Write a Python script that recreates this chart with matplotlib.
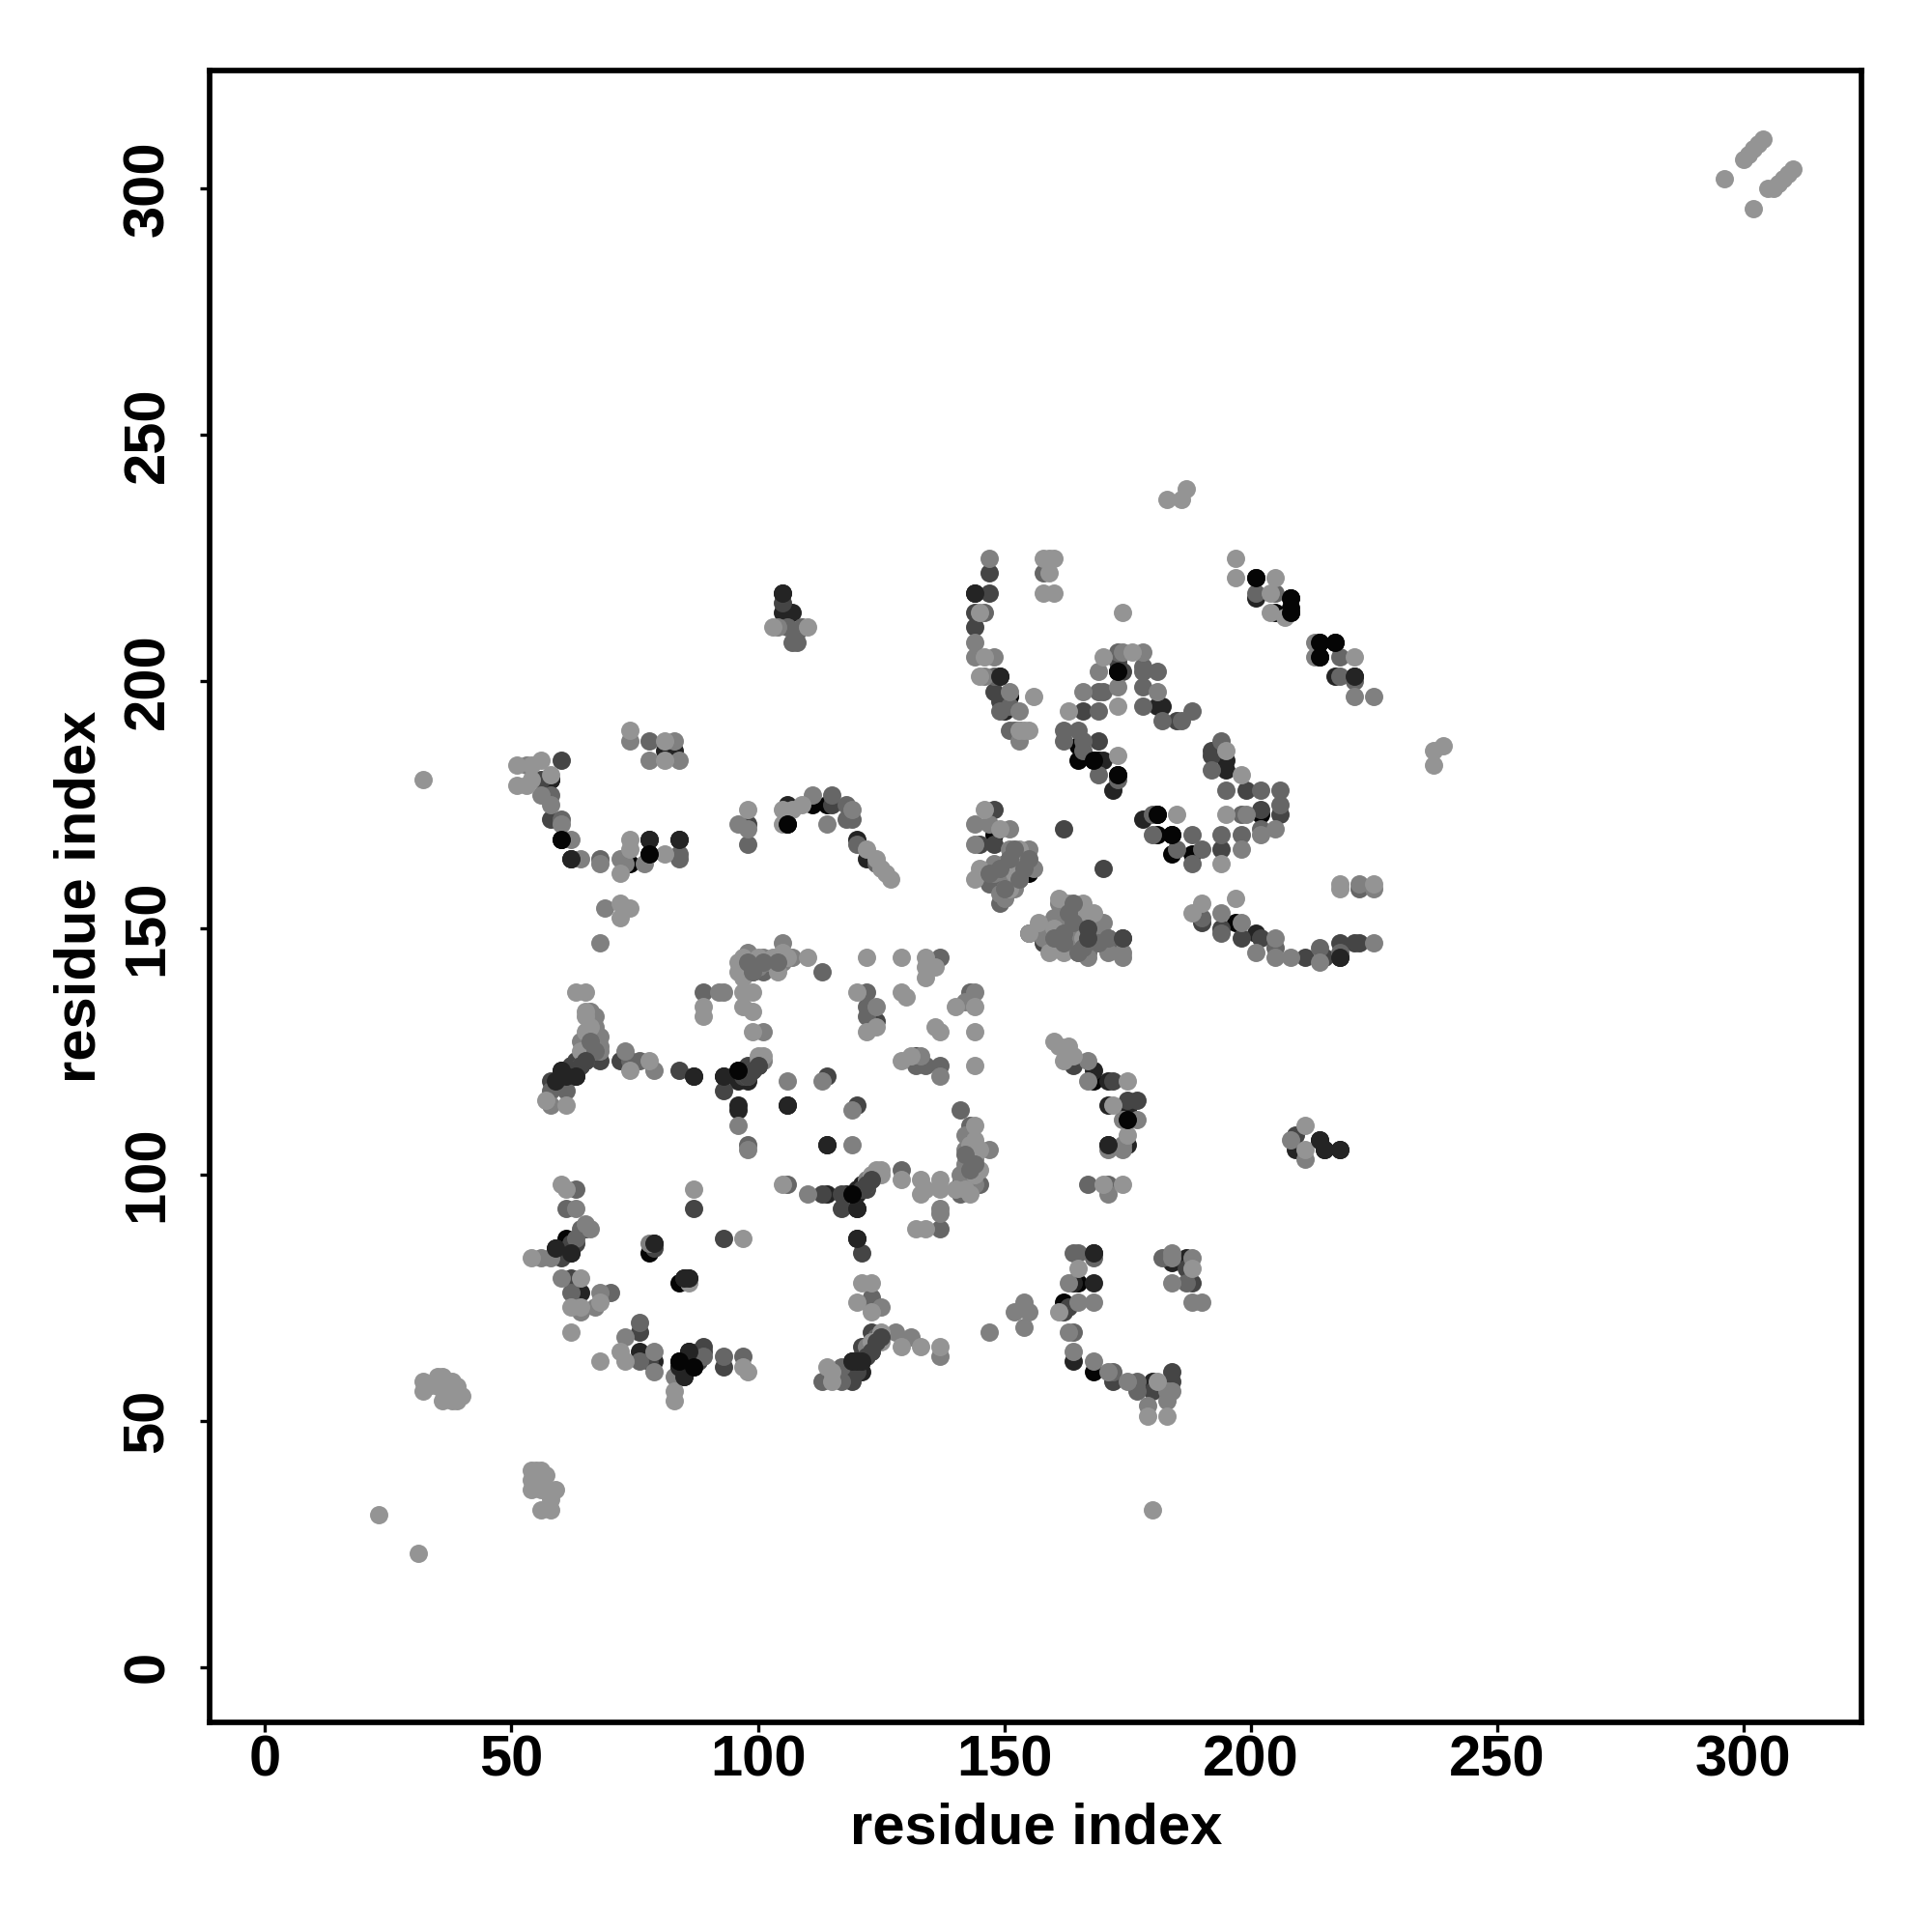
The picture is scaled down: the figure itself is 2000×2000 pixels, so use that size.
import matplotlib
matplotlib.use('Agg')
import matplotlib.pyplot as plt
import numpy as np

plt.rcParams['font.family'] = ['Liberation Sans', 'DejaVu Sans']
plt.rcParams['font.weight'] = 'bold'

# (residue i, residue j), one list per grey level
light = [(23,31),(31,23),(180,32),(32,180),(183,237),(186,237),(187,239),(237,183),(237,186),(239,187),
 (296,302),(302,296),(300,306),(301,307),(302,308),(303,309),(304,310),(305,300),(306,300),(307,301),(308,302),(309,303),(310,304),
 (32,58),(32,56),(33,57),(35,59),(36,59),(35,57),(36,54),(37,56),(38,54),(39,57),(40,55),(39,54),(38,58),
 (54,40),(55,40),(56,40),(57,39),(54,38),(54,36),(56,36),(57,36),(59,36),(56,32),(58,32),(58,34),
 (51,183),(51,179),(53,179),(54,183),(54,180),(56,184),(58,181),(74,190),(81,184),(81,188),(74,168),(74,166),(72,161),(81,165),
 (72,155),(74,154),(72,152),(98,174),(105,174),(105,171),(107,174),(109,175),(122,166),(124,164),(125,162),(126,161),(127,160),
 (145,214),(145,201),(146,205),(153,190),(154,190),(155,190),(156,197),(159,225),(158,225),(160,225),(158,218),(160,218),(159,222),
 (170,205),(176,206),(163,194),(173,195),(173,185),(174,214),(197,225),(197,221),(205,221),(204,218),(204,214),(207,213),
 (221,205),(195,186),(198,181),(195,173),(194,163),(185,173),(218,159),(225,159),(218,158),(197,156),(188,153),(190,155),
 (146,174),(149,170),(153,166),(145,162),(144,160),(152,161),(151,158),(155,149),(157,151),(159,145),(161,156),(162,145),
 (166,155),(166,153),(166,151),(166,148),(63,137),(65,137),(65,133),(65,132),(65,129),(64,125),(78,123),(74,121),(57,115),(61,114),
 (89,134),(89,132),(97,137),(99,137),(97,134),(99,133),(99,129),(96,143),(96,141),(97,140),(100,144),(104,141),(105,145),(110,144),
 (100,124),(101,124),(122,144),(129,144),(134,144),(134,142),(134,140),(136,142),(120,137),(122,129),(124,130),(129,137),(130,136),
 (136,130),(137,129),(144,129),(140,134),(144,134),(129,123),(131,124),(144,122),(144,110),(144,107),(145,105),(144,100),(140,97),(143,96),
 (105,98),(123,100),(124,101),(125,100),(129,99),(133,99),(137,99),(134,97),(137,97),(133,96),(132,89),(134,89),
 (121,78),(123,78),(120,74),(123,72),(125,68),(129,65),(133,65),(137,65),(161,126),(160,127),(163,126),(162,123),(164,124),(175,119),
 (172,114),(175,108),(170,98),(174,98),(211,110),(211,105),(165,81),(161,72),(181,58),(179,51),(183,51),(188,81),(60,98),(61,97),
 (54,83),(62,68),(64,79),(62,73),(64,73),(68,74),(68,62),(72,64),(73,62),(83,54),(83,56),(97,61),(98,60),(87,97),(97,87),(86,78),(114,61),(115,58),(115,60),
 (103,211),(110,211),(163,155),(164,151),(160,150),(161,146),(168,153),(142,97),(145,101),(143,106),(98,142),(97,144),(103,144),(106,144),(124,100),(125,101),(123,66),(125,66),(66,130)]

lmid = [(53,183),(56,177),(58,175),(60,171),(62,168),(64,164),(68,163),(72,164),(73,163),(77,163),(78,184),(74,188),(83,188),(84,184),
 (69,154),(68,147),(96,171),(98,170),(111,177),(114,171),(119,174),
 (147,225),(144,208),(144,205),(148,205),(146,201),(151,198),(153,188),(153,194),(178,206),(174,206),(169,202),(181,198),(166,198),(173,199),
 (201,221),(213,205),(213,208),(221,197),(225,197),(199,173),(205,170),(202,169),(198,166),(222,159),(225,158),(194,153),(198,151),
 (201,145),(205,148),(205,144),(208,144),(214,143),(225,147),
 (144,171),(147,171),(151,170),(144,167),(151,166),(155,166),(156,162),(148,161),(150,161),(152,158),(150,156),(158,148),(161,155),(162,155),(162,151),
 (170,151),(171,145),(174,145),(174,144),(167,144),(67,132),(67,130),(68,128),(68,125),(73,125),(79,121),(58,114),
 (92,137),(93,137),(101,129),(98,145),(102,143),(101,144),(105,147),(107,144),(106,119),(113,119),(119,113),(96,110),(98,105),(119,106),
 (124,134),(144,137),(142,135),(133,124),(137,120),(147,105),(142,105),(142,102),(110,96),(122,99),(137,93),(137,92),(137,63),(125,73),
 (128,68),(131,67),(147,68),(152,72),(154,74),(155,72),(154,69),(167,123),(167,119),(174,111),(177,111),(174,106),(171,105),(174,105),(171,96),
 (208,107),(211,103),(163,78),(165,74),(168,74),(163,68),(164,64),(168,62),(171,60),(175,58),(179,53),(184,56),(183,56),(183,54),
 (184,83),(184,84),(188,83),(184,78),(188,74),(190,74),(56,83),(58,83),(60,79),(64,72),(67,73),(63,93),(68,76),(73,67),(79,64),(79,60),(83,59),(78,86),
 (104,211),(163,153),(163,149),(164,147),(165,145),(160,148),(159,150),(158,150),(160,152),(168,150),(169,147),
 (152,164),(153,163),(154,165),(150,163),(149,162),(150,158),(151,160),(149,157),(153,160),(148,163),
 (66,133),(66,127),(67,127),(68,126),(66,125),(64,127),(142,100),(143,101),(144,103),(142,108),(141,100),(144,98),
 (99,143),(100,142),(101,143),(103,143),(104,144),(105,143),(97,142),(123,99),(122,65),(124,66),(65,124),(66,126),(101,123),(100,123),(65,90),(66,89)]

mid = [(58,177),(60,172),(68,164),(78,188),(84,165),(84,164),(98,167),(115,177),(119,172),(146,214),(148,201),(151,195),(149,194),
 (151,190),(152,190),(158,222),(173,206),(178,203),(178,202),(178,199),(181,202),(169,198),(170,198),(169,194),(178,195),(188,194),(182,192),(186,192),
 (162,190),(165,190),(162,188),(166,188),(166,186),(169,181),(173,180),(201,218),(205,218),(218,205),(218,201),(221,200),(194,188),(192,182),(195,178),
 (202,178),(206,178),(198,173),(206,175),(194,169),(198,169),(202,170),(180,173),(180,169),(188,169),(185,166),(188,163),(190,166),(222,158),
 (190,152),(194,149),(205,146),(214,146),(218,145),(147,161),(151,164),(154,162),(147,159),(149,159),(149,155),(162,149),(162,147),(167,145),(171,148),
 (74,123),(76,123),(58,117),(61,117),(89,137),(101,141),(113,141),(98,106),(137,144),(122,137),(122,134),(122,132),(143,137),(132,122),(134,122),(137,122),
 (141,113),(143,110),(145,98),(141,96),(106,98),(129,101),(137,89),(123,75),(123,73),(167,98),(171,98),(164,84),(165,84),(168,83),(164,68),(172,60),
 (177,58),(177,56),(187,78),(182,83),(62,76),(70,76),(61,93),(63,97),(76,70),(76,62),(89,63),(93,63),(97,63),(113,58),(117,61),(117,58),
 (106,211),(109,211),(107,208),(108,208),(108,210),(118,175),(118,172),(120,167),(124,163),(171,146),(98,120),(99,121),(122,98),(124,67),(123,64),(65,123),(64,122),(64,89),(63,87)]

dmid = [(60,184),(56,180),(58,172),(98,171),(115,175),(147,222),(147,218),(144,214),(144,211),(148,198),(149,196),(153,190),(173,204),(174,202),
 (166,194),(185,192),(169,188),(192,186),(192,185),(194,166),(199,178),(202,174),(206,173),(162,170),(170,162),(148,174),(145,167),(148,167),(155,149),
 (158,147),(167,150),(167,148),(174,148),(190,151),(194,150),(198,148),(202,148),(211,144),(215,144),(218,147),(221,147),(222,147),
 (72,123),(66,128),(66,124),(64,123),(63,123),(62,122),(68,123),(58,119),(84,121),(93,117),(98,122),(100,122),(99,141),(104,143),(114,120),(120,114),
 (124,131),(132,124),(141,98),(113,96),(117,96),(117,93),(164,122),(172,119),(175,115),(177,115),(209,108),(188,78),(187,81),(163,73),(162,72),(172,58),(184,60),(184,58),(180,56),
 (65,89),(63,86),(60,83),(62,79),(76,68),(78,62),(93,61),(87,93),(93,87),(121,84),(123,68),(123,65),(121,63),(119,58),(121,65),(89,65),(88,64),(79,85),
 (105,216),(97,120),(122,64),(120,60),(118,59),(119,60),(121,97),(122,97),(62,121),(88,62),(89,64),(62,86)]

dark = [(58,180),(62,164),(78,168),(84,168),(81,186),(83,186),(106,175),(144,218),(149,201),(150,194),(182,195),(181,195),(170,184),
 (172,178),(195,184),(195,182),(201,217),(217,201),(221,201),(218,144),(201,149),(178,172),(60,121),(61,120),(59,119),(63,120),(87,120),(93,120),
 (96,119),(98,119),(96,114),(96,113),(106,114),(114,106),(114,96),(120,97),(121,98),(120,93),(120,87),(105,218),(105,214),(107,214),
 (143,104),(168,121),(171,119),(171,114),(175,113),(175,106),(171,106),(209,105),(214,107),(215,105),(218,105),(168,84),(164,78),(168,78),
 (164,62),(180,58),(187,83),(184,82),(59,85),(62,84),(64,76),(76,64),(79,62),(85,59),(84,61),(86,64),(85,79),(86,79),(79,86),(119,62),(121,62),(121,60),(120,62),
 (120,168),(122,164),(60,120),(61,121),(62,120),(97,121),(118,96),(120,96),(86,62)]

black = [(58,180),(60,168),(74,163),(78,165),(106,171),(111,175),(114,175),(151,197),(173,202),(165,187),(165,184),(168,184),(169,184),
 (173,181),(201,221),(208,217),(208,215),(205,214),(208,214),(214,208),(217,208),(214,205),(202,173),(197,151),(181,173),(181,169),(184,169),(184,165),(188,165),
 (148,169),(155,161),(96,121),(119,96),(168,119),(175,111),(165,78),(162,74),(168,60),(61,87),(78,84),(84,78),(84,62),(87,61)]

# dots that sit on top of the light ones in the crowded patches
top_mid = [(151,164),(154,162),(153,160),(150,158),(149,162),(147,161),(152,166),(155,164),(163,153),(162,149),(162,147),(164,151),(171,148),
 (166,146),(160,148),(165,145),(169,147),(164,155),(66,127),(67,125),(143,101),(142,104),(144,102),(98,143),(99,141),(101,143),(104,143)]
top_dmid = [(122,63),(123,64),(124,66),(125,67),(63,121),(64,122),(65,123),(98,120),(99,121),(100,122),(121,97),(122,98),(123,99),(167,150),(167,148),(174,148)]
top_dark = [(84,168),(78,168),(105,218),(87,120),(93,120),(114,106),(106,114),(120,93),(120,87),(171,106),(168,84),(218,105),(214,107),(215,105),
 (221,201),(218,144),(144,218),(149,201),(59,119),(60,121),(61,120),(63,120),(62,84),(59,85),(85,59),(84,61),(86,64),(79,86),(85,79),(86,79),(121,62),(120,62),(119,62),(62,164)]
top_black = [(60,168),(78,165),(106,171),(208,217),(208,214),(214,208),(217,208),(214,205),(201,221),(173,181),(168,184),(181,173),(184,169),(119,96),(175,111),(84,62),(87,61),(96,121),(173,202)]

ticks = [0, 50, 100, 150, 200, 250, 300]

fig = plt.figure(figsize=(20, 20), dpi=100)
ax = fig.add_axes([0.1085, 0.1084, 0.8552, 0.8552])

for pts, g in [(black, 0.02), (dark, 0.14), (dmid, 0.27), (mid, 0.4), (lmid, 0.5), (light, 0.58),
               (top_mid, 0.42), (top_dmid, 0.27), (top_dark, 0.14), (top_black, 0.02)]:
    p = np.array(pts)
    ax.scatter(p[:, 0], p[:, 1], s=186, color=str(g), linewidths=0, zorder=3)

ax.set_xlim(-11.25, 324)
ax.set_ylim(-11.25, 324)
ax.set_xticks(ticks)
ax.set_yticks(ticks)
ax.tick_params(length=7, width=2.4, labelsize=43)
ax.tick_params(axis='x', pad=2)
ax.tick_params(axis='y', pad=19)
for t in ax.get_yticklabels():
    t.set_rotation(90)
    t.set_va('center')
for s in ax.spines.values():
    s.set_linewidth(4.1)
ax.set_xlabel('residue index', fontsize=43, fontweight='bold', labelpad=11)
ax.set_ylabel('residue index', fontsize=43, fontweight='bold', labelpad=11)

fig.savefig('out.png', dpi=100)
